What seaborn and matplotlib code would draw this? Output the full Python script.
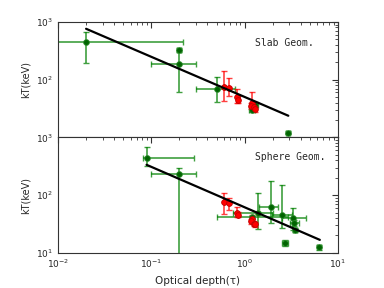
import numpy as np
import pandas as pd
import matplotlib
matplotlib.use("Agg")
import matplotlib.pyplot as plt
import seaborn as sns

# ── data ────────────────────────────────────────────────────────────────────
# red sample (same in both panels)
red_tau = [0.60, 0.68, 0.83, 0.86, 1.20, 1.18, 1.25, 1.30]
red_kt_slab = [75, 72, 50, 45, 40, 35, 33, 31]
red_lo_slab = [42, 52, 40, 40, 34, 31, 29, 28]
red_hi_slab = [140, 107, 70, 52, 60, 39, 37, 34]
red_kt_sph = [76, 73, 50, 46, 39, 35, 32, 31]
red_lo_sph = [48, 56, 42, 41, 34, 31, 29, 28]
red_hi_sph = [110, 88, 62, 51, 45, 39, 35, 34]

# green sample, slab geometry
slab_tau = [0.02, 0.20, 0.20, 0.50, 1.20, 1.30, 2.90]
slab_tau_lo = [0.005, 0.19, 0.10, 0.30, 1.12, 1.22, 2.75]
slab_tau_hi = [0.22, 0.21, 0.30, 0.79, 1.28, 1.38, 3.05]
slab_kt = [440, 330, 190, 70, 30, 37, 12]
slab_kt_lo = [195, 300, 60, 41, 27, 33, 11.3]
slab_kt_hi = [660, 360, 330, 110, 33, 41, 12.7]

# green sample, sphere geometry
sph_tau = [0.089, 0.20, 1.20, 1.40, 1.92, 2.50, 3.30, 3.40, 3.45, 2.70, 6.30]
sph_tau_lo = [0.081, 0.10, 0.50, 0.75, 1.42, 1.95, 2.50, 3.10, 3.30, 2.50, 6.00]
sph_tau_hi = [0.29, 0.30, 2.95, 2.00, 2.30, 3.20, 4.60, 3.80, 3.60, 2.95, 6.60]
sph_kt = [440, 234, 41, 50, 62, 46, 40, 33, 25, 14.8, 12.4]
sph_kt_lo = [315, 1, 38, 26, 33, 27, 25, 29, 23, 13, 11]
sph_kt_hi = [690, 300, 44, 107, 178, 150, 60, 37, 27, 17, 13.5]

# best-fit power laws (end points)
slab_fit_tau = [0.02, 2.94]
slab_fit_kt = [760, 23.7]
sph_fit_tau = [0.089, 6.4]
sph_fit_kt = [335, 16.8]


def draw_points(ax, tau, tlo, thi, kt, klo, khi, ecol, mcol, edge):
    tau, tlo, thi = map(np.array, (tau, tlo, thi))
    kt, klo, khi = map(np.array, (kt, klo, khi))
    ax.errorbar(tau, kt, xerr=[tau - tlo, thi - tau], yerr=[kt - klo, khi - kt],
                fmt='none', ecolor=ecol, elinewidth=1.2, capsize=2,
                capthick=1.0, alpha=0.75, zorder=2)
    df = pd.DataFrame({'tau': tau, 'kt': kt})
    sns.scatterplot(data=df, x='tau', y='kt', ax=ax, color=mcol, s=17,
                    edgecolor=edge, linewidth=0.6, zorder=3)


sns.set_style("white")
plt.rcParams['font.family'] = ['DejaVu Sans']

fig, (ax1, ax2) = plt.subplots(2, 1, figsize=(3.84, 2.88), dpi=100, sharex=True)
fig.subplots_adjust(left=0.151, right=0.88, top=0.924, bottom=0.122, hspace=0)

draw_points(ax1, slab_tau, slab_tau_lo, slab_tau_hi, slab_kt, slab_kt_lo,
            slab_kt_hi, 'green', 'darkgreen', '#2e8b2e')
draw_points(ax1, red_tau, red_tau, red_tau, red_kt_slab, red_lo_slab,
            red_hi_slab, 'red', 'red', '#c00000')
sns.lineplot(x=slab_fit_tau, y=slab_fit_kt, ax=ax1, color='black', lw=1.6,
             zorder=4)

draw_points(ax2, sph_tau, sph_tau_lo, sph_tau_hi, sph_kt, sph_kt_lo,
            sph_kt_hi, 'green', 'darkgreen', '#2e8b2e')
draw_points(ax2, red_tau, red_tau, red_tau, red_kt_sph, red_lo_sph,
            red_hi_sph, 'red', 'red', '#c00000')
sns.lineplot(x=sph_fit_tau, y=sph_fit_kt, ax=ax2, color='black', lw=1.6,
             zorder=4)

for ax in (ax1, ax2):
    ax.set_xscale('log')
    ax.set_yscale('log')
    ax.set_xlim(1e-2, 1e1)
    ax.set_ylim(1e1, 1e3)
    ax.set_ylabel('kT(keV)', fontsize=7)
    ax.set_xlabel('')
    ax.tick_params(which='both', direction='in', top=True, right=True,
                   labelsize=6.5, color='#333333')
    ax.tick_params(which='major', length=4, width=0.8)
    ax.tick_params(which='minor', length=2, width=0.6)
    for s in ax.spines.values():
        s.set_color('#333333')
        s.set_linewidth(0.8)

ax1.set_yticks([1e1, 1e2, 1e3], ['', '$10^{2}$', '$10^{3}$'])
ax1.text(0.81, 0.82, 'Slab Geom.', transform=ax1.transAxes, ha='center',
         va='center', fontsize=7, family='DejaVu Sans Mono')
ax2.text(0.83, 0.83, 'Sphere Geom.', transform=ax2.transAxes, ha='center',
         va='center', fontsize=7, family='DejaVu Sans Mono')
ax2.set_xlabel('Optical depth(τ)', fontsize=7.5)

fig.savefig('out.png', dpi=100)
